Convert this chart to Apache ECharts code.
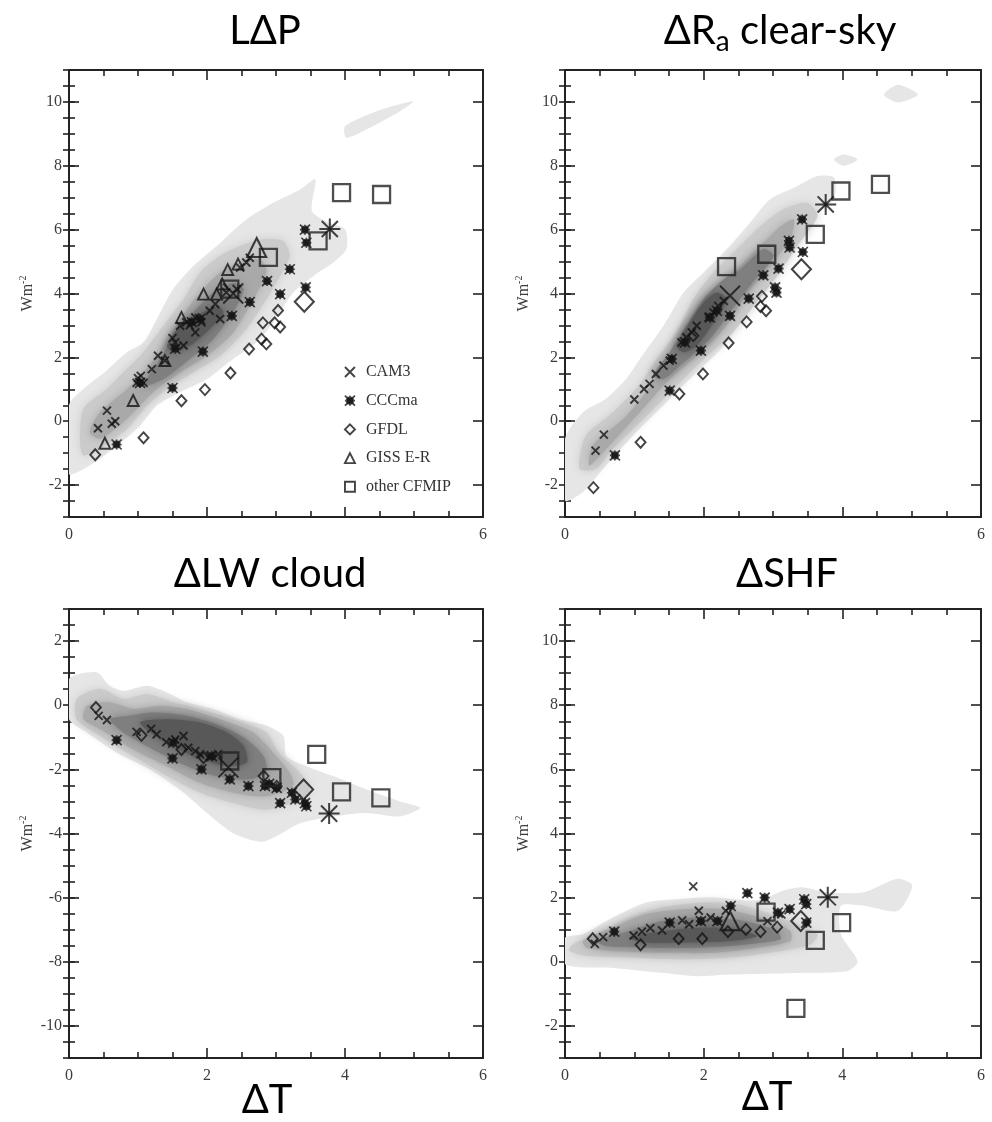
<!DOCTYPE html>
<html>
<head>
<meta charset="utf-8">
<script src="https://cdn.jsdelivr.net/npm/echarts@6/dist/echarts.min.js"></script>
<style>
  html, body { margin: 0; padding: 0; background: #ffffff; }
  #chart { width: 992px; height: 1122px; }
</style>
</head>
<body>
<div id="chart"></div>
<script>
// ---- axis ranges and ticks ----
const xRange = [0, 6];
const xLabelsTop = [0, 6];
const xLabelsBottom = [0, 2, 4, 6];
const yRangeUpper = [-3, 11];
const yTicksUpper = [-2, 0, 2, 4, 6, 8, 10];
const yRangeLW = [-11, 3];
const yTicksLW = [-10, -8, -6, -4, -2, 0, 2];
const legendNames = ['CAM3', 'CCCma', 'GFDL', 'GISS E-R', 'other CFMIP'];

// ---- L dP ----
const lapCam3 = [[0.42,-0.22],[0.55,0.33],[0.62,-0.08],[0.67,0.0],[0.98,1.2],[1.0,1.35],[1.04,1.42],[1.08,1.2],[1.2,1.63],[1.29,2.05],[1.39,1.9],[1.54,2.47],[1.66,2.37],[1.61,2.99],[1.7,3.1],[1.83,2.78],[1.83,3.25],[1.92,3.1],[2.04,3.46],[2.12,3.67],[2.19,3.2],[2.28,4.03],[2.43,4.14],[2.48,4.81],[2.57,4.97],[2.62,5.12],[1.75,3.0],[1.5,2.6]];
const lapCccma = [[0.69,-0.73],[1.5,1.04],[1.94,2.18],[1.54,2.27],[2.36,3.3],[2.62,3.73],[2.87,4.39],[3.06,3.98],[3.2,4.76],[3.43,4.19],[3.44,5.59],[3.42,6.0],[1.78,3.1],[1.9,3.2],[1.03,1.2]];
const lapGfdl = [[0.38,-1.05],[1.08,-0.52],[1.63,0.64],[1.97,0.99],[2.34,1.51],[2.61,2.26],[2.79,2.57],[2.86,2.42],[2.81,3.08],[2.98,3.08],[3.06,2.95],[3.03,3.47]];
const lapGiss = [[0.52,-0.69],[0.93,0.65],[1.39,1.9],[1.63,3.25],[1.95,3.98],[2.14,3.98],[2.22,4.3],[2.3,4.75],[2.45,4.92]];
const lapCfmip = [[2.33,4.14],[2.89,5.13],[3.61,5.65],[3.95,7.16],[4.53,7.1]];
const lapCam3Big = [[2.38,4.0]];
const lapCccmaBig = [[3.78,6.02]];
const lapGfdlBig = [[3.41,3.74]];
const lapGissBig = [[2.72,5.44]];
const lapShading = [
  [0, [[0,-1.65],[0,0.5],[0.26,1.1],[0.55,1.6],[0.84,2.16],[1.08,2.47],[1.32,3.4],[1.51,4.14],[1.8,4.86],[2.14,5.49],[2.57,6.32],[2.96,6.84],[3.35,7.26],[3.57,7.57],[3.52,6.58],[3.76,6.22],[4.0,6.01],[4.02,5.39],[3.83,4.97],[3.54,4.55],[3.25,4.03],[2.96,3.09],[2.72,2.47],[2.38,1.95],[2.0,1.32],[1.61,0.91],[1.27,0.49],[1.03,-0.14],[0.64,-0.86],[0.3,-1.39]]],
  [0, [[4.0,9.24],[4.46,9.71],[4.99,10.02],[4.8,9.71],[4.31,9.14],[4.02,8.88]]],
  [1, [[0.16,-0.66],[0.21,0.39],[0.55,1.01],[0.84,1.64],[1.08,2.16],[1.37,2.99],[1.66,3.82],[1.9,4.66],[2.19,5.18],[2.48,5.49],[2.82,5.7],[3.1,5.65],[3.2,5.18],[3.06,4.55],[2.86,3.82],[2.57,2.89],[2.19,2.05],[1.8,1.53],[1.42,1.01],[1.13,0.49],[0.84,-0.24],[0.45,-0.86],[0.21,-1.07]]],
  [2, [[0.3,-0.34],[0.45,0.28],[0.84,1.0],[1.13,1.64],[1.37,2.36],[1.61,3.2],[1.9,4.03],[2.19,4.66],[2.48,4.97],[2.77,5.07],[2.86,4.66],[2.67,3.82],[2.38,2.78],[2.0,2.05],[1.61,1.53],[1.22,0.91],[0.84,0.08],[0.45,-0.55]]],
  [3, [[1.08,1.11],[1.32,1.95],[1.56,2.78],[1.8,3.4],[2.09,4.03],[2.38,4.34],[2.53,4.14],[2.38,3.41],[2.09,2.57],[1.75,1.95],[1.37,1.32]]],
  [4, [[1.42,2.36],[1.61,2.99],[1.85,3.3],[2.14,3.61],[2.24,3.41],[2.04,2.89],[1.75,2.36],[1.51,2.16]]]
];

// ---- dRa clear-sky ----
const raCam3 = [[0.44,-0.92],[0.56,-0.42],[1.0,0.68],[1.14,1.01],[1.22,1.17],[1.31,1.48],[1.42,1.74],[1.51,1.9],[1.68,2.47],[1.75,2.63],[1.83,2.78],[1.9,2.99],[2.07,3.25],[2.14,3.41],[2.21,3.61],[2.29,3.77]];
const raCccma = [[0.72,-1.07],[1.51,0.96],[1.54,1.95],[1.96,2.21],[1.73,2.47],[2.09,3.25],[2.19,3.46],[2.38,3.3],[2.65,3.84],[2.86,4.57],[3.08,4.78],[3.03,4.19],[3.05,4.03],[3.23,5.65],[3.24,5.44],[3.43,5.3],[3.42,6.32]];
const raGfdl = [[0.41,-2.08],[1.09,-0.66],[1.65,0.85],[1.99,1.48],[2.36,2.45],[2.62,3.11],[2.82,3.59],[2.84,3.91],[2.9,3.46],[1.85,2.68]];
const raCfmip = [[2.33,4.84],[2.91,5.23],[3.61,5.85],[3.98,7.21],[4.55,7.42]];
const raCam3Big = [[2.38,3.93]];
const raCccmaBig = [[3.76,6.79]];
const raGfdlBig = [[3.41,4.76]];
const raShading = [
  [0, [[0,-2.48],[0,-0.55],[0.26,0.28],[0.59,0.7],[0.88,1.32],[1.08,1.95],[1.42,2.99],[1.71,4.03],[2.0,4.66],[2.38,5.49],[2.67,6.22],[2.96,6.95],[3.35,7.36],[3.64,7.68],[3.88,7.63],[3.88,6.95],[3.59,6.43],[3.35,5.91],[3.15,5.07],[2.86,4.14],[2.57,3.41],[2.29,2.36],[1.9,1.53],[1.51,0.7],[1.03,-0.34],[0.59,-1.39],[0.26,-2.22]]],
  [0, [[4.6,10.23],[4.8,10.54],[5.09,10.23],[4.8,9.98]]],
  [0, [[3.88,8.2],[4.02,8.35],[4.22,8.2],[4.02,8.0]]],
  [1, [[0.21,-1.49],[0.3,-0.45],[0.64,0.18],[1.03,1.01],[1.32,1.95],[1.61,2.78],[1.85,3.82],[2.14,4.66],[2.48,5.39],[2.82,6.11],[3.15,6.64],[3.49,6.84],[3.64,6.43],[3.35,5.49],[3.06,4.55],[2.72,3.61],[2.38,2.68],[2.0,1.95],[1.61,1.11],[1.13,0.07],[0.69,-0.87],[0.45,-1.49]]],
  [2, [[0.35,-1.39],[0.4,-0.76],[0.84,0.07],[1.17,0.91],[1.42,1.74],[1.71,2.68],[1.95,3.51],[2.19,4.24],[2.48,4.76],[2.77,5.39],[3.11,6.11],[3.3,6.32],[3.25,5.7],[2.86,4.66],[2.57,3.82],[2.29,2.89],[1.9,2.05],[1.51,1.32],[1.08,0.28],[0.64,-0.76]]],
  [3, [[1.27,1.43],[1.51,2.16],[1.75,2.99],[2.0,3.82],[2.29,4.45],[2.53,4.76],[2.86,5.39],[3.01,5.18],[2.67,4.24],[2.38,3.41],[2.09,2.57],[1.71,1.84],[1.42,1.32]]],
  [4, [[1.61,2.36],[1.8,3.09],[2.0,3.72],[2.19,4.03],[2.33,3.82],[2.14,3.09],[1.9,2.36],[1.71,2.16]]]
];

// ---- dLW cloud ----
const lwCam3 = [[0.43,-0.33],[0.55,-0.46],[0.98,-0.83],[1.19,-0.74],[1.27,-0.91],[1.41,-1.15],[1.54,-1.07],[1.66,-0.96],[1.73,-1.32],[1.83,-1.43],[2.16,-1.53],[1.9,-1.53],[2.04,-1.59]];
const lwCccma = [[0.69,-1.09],[1.5,-1.66],[1.51,-1.17],[2.07,-1.59],[1.92,-2.0],[2.33,-2.31],[2.6,-2.52],[2.84,-2.52],[3.01,-2.58],[3.06,-3.05],[3.23,-2.73],[3.28,-2.94],[3.42,-3.05],[3.44,-3.15],[2.9,-2.45]];
const lwGfdl = [[0.39,-0.07],[1.05,-0.94],[1.63,-1.38],[1.95,-1.64],[2.82,-2.21],[3.01,-2.53]];
const lwCfmip = [[2.33,-1.74],[2.94,-2.26],[3.59,-1.53],[3.95,-2.7],[4.52,-2.89]];
const lwCam3Big = [[2.31,-1.94]];
const lwCccmaBig = [[3.77,-3.38]];
const lwGfdlBig = [[3.4,-2.63]];
const lwShading = [
  [0, [[0,0.82],[0.4,1.03],[0.59,0.61],[0.79,0.45],[1.13,0.61],[1.42,0.4],[1.71,0.09],[2.09,-0.12],[2.48,-0.44],[2.86,-0.64],[3.11,-0.96],[3.15,-1.59],[3.44,-1.9],[3.83,-2.21],[4.31,-2.63],[4.8,-3.0],[5.09,-3.2],[4.8,-3.47],[4.31,-3.36],[3.83,-3.47],[3.35,-3.68],[2.82,-4.25],[2.38,-3.99],[2.0,-3.36],[1.66,-2.73],[1.17,-2.0],[0.69,-1.48],[0.26,-0.85],[0,-0.44]]],
  [1, [[0.11,0.19],[0.45,0.51],[0.79,0.19],[1.13,0.35],[1.51,0.09],[1.9,-0.12],[2.38,-0.44],[2.86,-0.85],[3.04,-1.48],[3.35,-2.11],[3.49,-2.63],[3.35,-2.94],[2.86,-3.26],[2.38,-3.05],[1.9,-2.73],[1.42,-2.21],[0.93,-1.59],[0.45,-0.96],[0.11,-0.44]]],
  [2, [[0.26,-0.02],[0.59,0.09],[0.93,-0.12],[1.32,-0.02],[1.71,-0.12],[2.19,-0.44],[2.67,-0.85],[2.96,-1.48],[3.2,-2.11],[3.25,-2.53],[2.86,-2.84],[2.38,-2.73],[1.9,-2.42],[1.42,-1.9],[0.93,-1.38],[0.45,-0.75],[0.21,-0.44]]],
  [3, [[0.59,-0.44],[0.84,-0.34],[1.22,-0.23],[1.71,-0.33],[2.19,-0.64],[2.57,-1.06],[2.82,-1.59],[2.86,-2.11],[2.57,-2.32],[2.14,-2.21],[1.71,-1.9],[1.22,-1.38],[0.79,-0.85]]],
  [4, [[1.03,-0.54],[1.42,-0.44],[1.9,-0.54],[2.29,-0.85],[2.53,-1.27],[2.58,-1.79],[2.29,-1.9],[1.8,-1.59],[1.32,-1.06]]]
];

// ---- dSHF ----
const shfCam3 = [[0.43,0.56],[0.55,0.77],[0.99,0.82],[1.11,0.94],[1.23,1.05],[1.4,0.98],[1.69,1.29],[1.79,1.17],[1.85,2.35],[1.93,1.59],[2.1,1.38],[2.32,1.59],[2.92,1.27],[3.12,1.48]];
const shfCccma = [[0.71,0.94],[1.51,1.22],[1.96,1.27],[2.2,1.27],[2.39,1.74],[2.63,2.14],[2.88,2.0],[3.07,1.53],[3.24,1.64],[3.45,1.95],[3.48,1.8],[3.48,1.22]];
const shfGfdl = [[0.4,0.72],[1.09,0.53],[1.64,0.72],[1.98,0.72],[2.35,0.94],[2.61,1.01],[2.82,0.94],[3.06,1.08]];
const shfCfmip = [[2.9,1.55],[3.61,0.67],[3.99,1.22],[3.33,-1.45]];
const shfCccmaBig = [[3.79,2.01]];
const shfGfdlBig = [[3.4,1.27]];
const shfGissBig = [[2.38,1.28]];
const shfShading = [
  [0, [[0,0.75],[0.26,0.86],[0.69,1.38],[1.17,1.85],[1.66,1.96],[2.14,2.01],[2.62,1.91],[2.86,1.96],[3.15,2.22],[3.44,2.32],[3.78,2.17],[4.31,2.17],[4.8,2.59],[5.01,2.38],[4.8,1.59],[4.31,1.75],[3.98,1.75],[3.98,0.86],[4.22,0.02],[4.07,-0.29],[3.35,-0.35],[2.38,-0.4],[1.9,-0.45],[1.42,-0.35],[0.69,-0.19],[0,-0.08]]],
  [1, [[0.06,0.34],[0.11,0.54],[0.45,0.86],[0.93,1.38],[1.42,1.7],[2.0,1.85],[2.48,1.8],[2.96,1.49],[3.35,1.17],[3.64,0.86],[3.54,0.54],[3.11,0.34],[2.38,0.13],[1.66,0.07],[0.93,0.13],[0.35,0.18]]],
  [2, [[0.26,0.65],[0.69,1.07],[1.17,1.49],[1.71,1.64],[2.29,1.64],[2.82,1.38],[3.25,0.96],[3.25,0.65],[2.77,0.44],[2.14,0.28],[1.42,0.28],[0.69,0.34],[0.31,0.44]]],
  [3, [[0.45,0.65],[0.93,0.96],[1.42,1.28],[2.0,1.38],[2.57,1.28],[3.06,0.96],[3.11,0.7],[2.62,0.54],[1.9,0.44],[1.17,0.44],[0.59,0.49]]],
  [4, [[0.93,0.75],[1.42,0.96],[2.0,1.07],[2.48,1.02],[2.77,0.8],[2.38,0.65],[1.71,0.6],[1.13,0.6]]]
];

// ---- styling ----
const shadeFills = ['#e6e6e6', '#cbcbcb', '#a9a9a9', '#7f7f7f', '#585858'];
const ink = '#141414';
const serif = 'Liberation Serif';
const axisFont = { fontFamily: serif, fontSize: 16, color: '#3c3c3c' };
const frameLine = { show: true, onZero: false, lineStyle: { color: '#222', width: 2 } };
const majorTick = { show: true, inside: true, length: 10, lineStyle: { color: '#222', width: 1.6 } };
const minorTickStyle = { show: true, splitNumber: 4, length: 6, lineStyle: { color: '#222', width: 1.6 } };

const crossPath = 'path://M0,0L10,10M10,0L0,10';
const cccmaPath = 'path://M2,2L8,2L8,8L2,8Z M0,0L10,10M10,0L0,10M5,0L5,10M0,5L10,5';
const bigStarPath = 'path://M0,0L10,10M10,0L0,10M5,-1.5L5,11.5M-1.5,5L11.5,5M4,4L6,4L6,6L4,6Z';

const openStyle = { color: 'rgba(0,0,0,0)', borderColor: ink, borderWidth: 1.9 };
const filledStyle = { color: ink, borderColor: ink, borderWidth: 1.7 };

const grids = [
  { left: 69, top: 70, width: 414, height: 447 },
  { left: 565, top: 70, width: 416, height: 447 },
  { left: 69, top: 609, width: 414, height: 449 },
  { left: 565, top: 609, width: 416, height: 449 }
];

function xAxesFor(g, labels) {
  const base = {
    gridIndex: g, type: 'value', min: xRange[0], max: xRange[1], interval: 2,
    splitLine: { show: false }, axisLine: frameLine, axisTick: majorTick, minorTick: minorTickStyle
  };
  return [
    Object.assign({}, base, { position: 'bottom', axisLabel: Object.assign({ margin: 10, customValues: labels }, axisFont) }),
    Object.assign({}, base, { position: 'top', axisLabel: { show: false } })
  ];
}

function yAxesFor(g, range, ticks) {
  const base = { gridIndex: g, type: 'value', min: range[0], max: range[1], splitLine: { show: false } };
  const major = Object.assign({}, base, {
    interval: 1, axisLine: frameLine,
    axisTick: Object.assign({ customValues: ticks }, majorTick)
  });
  const minor = Object.assign({}, base, {
    interval: 0.5, axisLine: { show: false },
    axisTick: { show: true, inside: true, length: 6, lineStyle: { color: '#222', width: 1.6 } },
    axisLabel: { show: false }
  });
  return [
    Object.assign({}, major, {
      position: 'left',
      axisLabel: Object.assign({ margin: 7, customValues: ticks }, axisFont),
      name: 'Wm{sup|-2}', nameLocation: 'middle', nameRotate: 90, nameGap: 32,
      nameTextStyle: {
        fontFamily: serif, fontSize: 16, color: '#3c3c3c',
        rich: { sup: { fontFamily: serif, fontSize: 10, color: '#3c3c3c', verticalAlign: 'top', padding: [0, 0, 9, 0] } }
      }
    }),
    Object.assign({}, major, { position: 'right', axisLabel: { show: false } }),
    Object.assign({}, minor, { position: 'left' }),
    Object.assign({}, minor, { position: 'right' })
  ];
}

function shadeSeries(g, shading) {
  return shading.map(function (item) {
    const level = item[0], pts = item[1];
    return {
      type: 'custom', xAxisIndex: g * 2, yAxisIndex: g * 4, silent: true, clip: true,
      z: 1 + level, animation: false,
      data: [pts[0]],
      renderItem: function (params, api) {
        return {
          type: 'polygon',
          shape: { points: pts.map(function (p) { return api.coord(p); }), smooth: 0.25 },
          style: {
            fill: shadeFills[level],
            shadowBlur: level ? 10 : 0,
            shadowColor: level ? shadeFills[level] : 'transparent'
          }
        };
      }
    };
  });
}

function marks(g, name, pts, symbol, size, style) {
  return {
    type: 'scatter', name: name, xAxisIndex: g * 2, yAxisIndex: g * 4, data: pts,
    symbol: symbol, symbolSize: size, itemStyle: style, z: 10, silent: true, animation: false
  };
}

function modelSeries(g, set) {
  const out = [];
  if (set.cam3) out.push(marks(g, 'CAM3', set.cam3, crossPath, 8, openStyle));
  if (set.cccma) out.push(marks(g, 'CCCma', set.cccma, cccmaPath, 10, filledStyle));
  if (set.gfdl) out.push(marks(g, 'GFDL', set.gfdl, 'diamond', [10, 11], openStyle));
  if (set.giss) out.push(marks(g, 'GISS E-R', set.giss, 'triangle', 11, openStyle));
  if (set.cfmip) out.push(marks(g, 'other CFMIP', set.cfmip, 'rect', 17, { color: 'rgba(0,0,0,0)', borderColor: '#222', borderWidth: 2.3 }));
  if (set.cam3Big) out.push(marks(g, 'CAM3 standard', set.cam3Big, crossPath, 20, openStyle));
  if (set.cccmaBig) out.push(marks(g, 'CCCma standard', set.cccmaBig, bigStarPath, 21, { color: ink, borderColor: ink, borderWidth: 2 }));
  if (set.gfdlBig) out.push(marks(g, 'GFDL standard', set.gfdlBig, 'diamond', [19, 20], { color: 'rgba(0,0,0,0)', borderColor: ink, borderWidth: 2.1 }));
  if (set.gissBig) out.push(marks(g, 'GISS E-R standard', set.gissBig, 'triangle', 19, { color: 'rgba(0,0,0,0)', borderColor: ink, borderWidth: 2.1 }));
  return out;
}

const series = [].concat(
  shadeSeries(0, lapShading),
  shadeSeries(1, raShading),
  shadeSeries(2, lwShading),
  shadeSeries(3, shfShading),
  modelSeries(0, { cam3: lapCam3, cccma: lapCccma, gfdl: lapGfdl, giss: lapGiss, cfmip: lapCfmip, cam3Big: lapCam3Big, cccmaBig: lapCccmaBig, gfdlBig: lapGfdlBig, gissBig: lapGissBig }),
  modelSeries(1, { cam3: raCam3, cccma: raCccma, gfdl: raGfdl, cfmip: raCfmip, cam3Big: raCam3Big, cccmaBig: raCccmaBig, gfdlBig: raGfdlBig }),
  modelSeries(2, { cam3: lwCam3, cccma: lwCccma, gfdl: lwGfdl, cfmip: lwCfmip, cam3Big: lwCam3Big, cccmaBig: lwCccmaBig, gfdlBig: lwGfdlBig }),
  modelSeries(3, { cam3: shfCam3, cccma: shfCccma, gfdl: shfGfdl, cfmip: shfCfmip, cccmaBig: shfCccmaBig, gfdlBig: shfGfdlBig, gissBig: shfGissBig })
);

const titleFont = { fontFamily: 'Lato', fontSize: 40, fill: '#000' };
function titleText(x, y, text, rich) {
  return {
    type: 'text', x: x, y: y, z: 100, silent: true,
    style: Object.assign({ text: text, align: 'center', verticalAlign: 'middle', rich: rich || {} }, titleFont)
  };
}

const option = {
  animation: false,
  backgroundColor: '#ffffff',
  grid: grids,
  xAxis: [].concat(xAxesFor(0, xLabelsTop), xAxesFor(1, xLabelsTop), xAxesFor(2, xLabelsBottom), xAxesFor(3, xLabelsBottom)),
  yAxis: [].concat(yAxesFor(0, yRangeUpper, yTicksUpper), yAxesFor(1, yRangeUpper, yTicksUpper), yAxesFor(2, yRangeLW, yTicksLW), yAxesFor(3, yRangeUpper, yTicksUpper)),
  legend: {
    left: 339, top: 359, orient: 'vertical', selectedMode: false,
    itemWidth: 10, itemHeight: 10, itemGap: 12.7,
    textStyle: { fontFamily: serif, fontSize: 16, color: '#333', padding: [0, 0, 0, 6] },
    data: [
      { name: legendNames[0], icon: crossPath, itemStyle: { color: 'rgba(0,0,0,0)', borderColor: ink, borderWidth: 1.9 } },
      { name: legendNames[1], icon: cccmaPath, itemStyle: { color: ink, borderColor: ink, borderWidth: 1.7 } },
      { name: legendNames[2], icon: 'diamond', itemStyle: { color: 'rgba(0,0,0,0)', borderColor: ink, borderWidth: 1.9 } },
      { name: legendNames[3], icon: 'triangle', itemStyle: { color: 'rgba(0,0,0,0)', borderColor: ink, borderWidth: 1.9 } },
      { name: legendNames[4], icon: 'rect', itemStyle: { color: 'rgba(0,0,0,0)', borderColor: ink, borderWidth: 1.9 } }
    ]
  },
  graphic: [
    titleText(265, 31, 'L\u0394P'),
    titleText(780, 31, '\u0394R{sub|a} clear-sky', { sub: { fontFamily: 'Lato', fontSize: 28, fill: '#000', verticalAlign: 'bottom', padding: [22, 0, 0, 0] } }),
    titleText(270, 574, '\u0394LW cloud'),
    titleText(787, 574, '\u0394SHF'),
    titleText(267, 1100, '\u0394T'),
    titleText(767, 1097, '\u0394T')
  ],
  series: series
};

const chart = echarts.init(document.getElementById('chart'), null, { renderer: 'canvas' });
chart.setOption(option);
</script>
</body>
</html>
